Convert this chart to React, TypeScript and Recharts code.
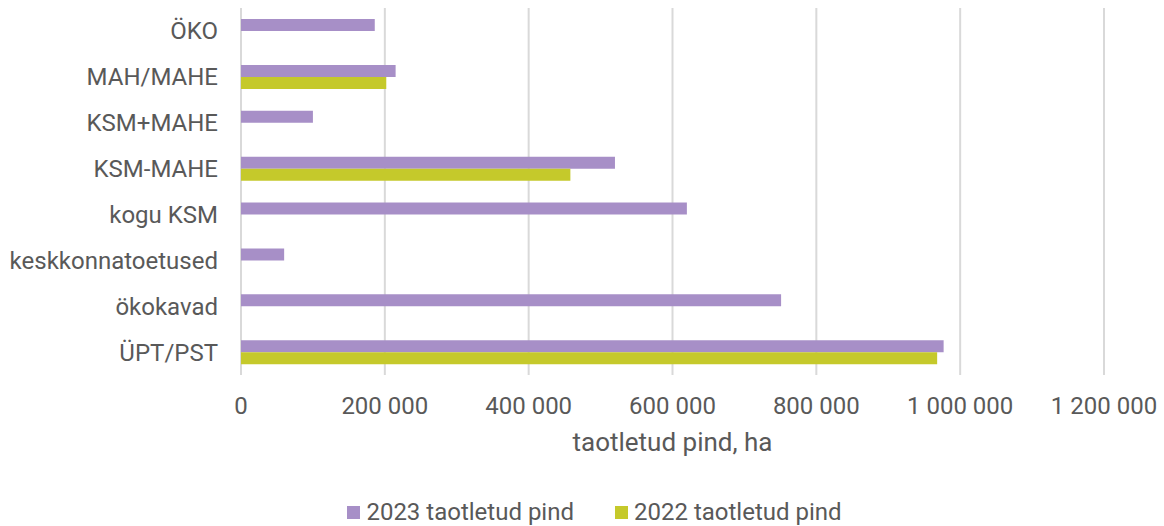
import React from 'react';
import { BarChart, Bar, XAxis, YAxis, CartesianGrid, Legend, Label } from 'recharts';

const categories = ['ÖKO', 'MAH/MAHE', 'KSM+MAHE', 'KSM-MAHE', 'kogu KSM', 'keskkonnatoetused', 'ökokavad', 'ÜPT/PST'];
const values2023 = [186000, 215000, 100000, 520000, 620000, 60000, 751000, 977000];
const values2022 = [null, 202000, null, 458000, null, null, null, 968000];
const xTicks = [0, 200000, 400000, 600000, 800000, 1000000, 1200000];

const series = [
  { key: 'v2023', name: '2023 taotletud pind', color: '#A78FC7' },
  { key: 'v2022', name: '2022 taotletud pind', color: '#C5C92B' },
];

const data = categories.map((name, i) => ({ name, v2023: values2023[i], v2022: values2022[i] }));

const fmt = (v: number) => String(v).replace(/\B(?=(\d{3})+(?!\d))/g, ' ');

const FONT = 'Roboto, "Noto Sans", sans-serif';
const TEXT = '#595959';

const LegendContent = () => (
  <div style={{ display: 'flex', justifyContent: 'center', fontFamily: FONT, fontSize: 24, color: TEXT, paddingTop: 12, paddingLeft: 85, lineHeight: '28px' }}>
    {series.map((s, i) => (
      <div key={s.key} style={{ display: 'flex', alignItems: 'center', marginLeft: i === 0 ? 0 : 41 }}>
        <span style={{ display: 'inline-block', width: 13, height: 13, background: s.color, marginRight: 6 }} />
        <span>{s.name}</span>
      </div>
    ))}
  </div>
);

export default function App() {
  return (
    <div style={{ position: 'absolute', left: 0, top: 0, width: 1164, height: 526, background: '#fff' }}>
      <BarChart
        width={1164}
        height={526}
        data={data}
        layout="vertical"
        margin={{ top: 8, right: 60, bottom: 0, left: 0 }}
        barGap={0}
        barSize={12}
      >
        <CartesianGrid horizontal={false} stroke="#D9D9D9" strokeWidth={2} />
        <XAxis
          type="number"
          domain={[0, 1200000]}
          ticks={xTicks}
          tickFormatter={fmt}
          axisLine={false}
          tickLine={false}
          tickSize={0}
          tickMargin={22}
          height={111}
          interval={0}
          tick={{ fill: TEXT, fontSize: 24, fontFamily: FONT }}
        >
          <Label value="taotletud pind, ha" position="insideTop" offset={58} fill={TEXT} fontSize={26} fontFamily={FONT} />
        </XAxis>
        <YAxis
          type="category"
          dataKey="name"
          width={241}
          axisLine={false}
          tickLine={false}
          tickSize={0}
          tickMargin={23}
          interval={0}
          tick={{ fill: TEXT, fontSize: 24, fontFamily: FONT }}
        />
        <Legend verticalAlign="bottom" height={40} content={<LegendContent />} />
        {series.map((s) => (
          <Bar key={s.key} dataKey={s.key} name={s.name} fill={s.color} isAnimationActive={false} />
        ))}
      </BarChart>
    </div>
  );
}
